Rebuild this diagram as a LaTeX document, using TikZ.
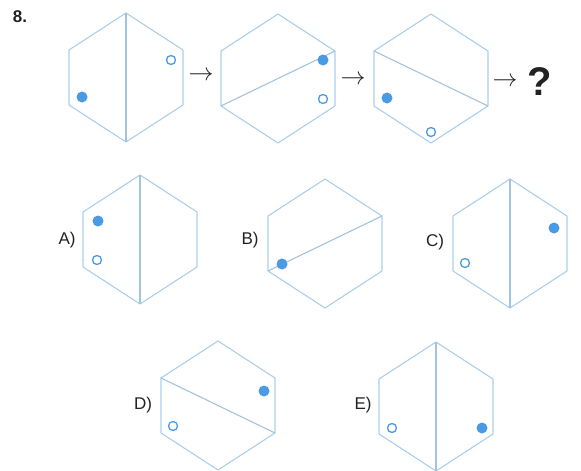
\documentclass[tikz,border=0pt]{standalone}
\usepackage{fontspec}
\setmainfont{Liberation Sans}
\usepackage{tikz}
\usetikzlibrary{positioning,calc}
\usepackage{xcolor}
\definecolor{hexblue}{HTML}{A9CFEC}
\definecolor{dotblue}{HTML}{4A9BE3}
\definecolor{dark}{HTML}{222222}
\tikzset{
  hexline/.style={draw=hexblue, line width=1.1pt, line join=round},
  cutline/.style={draw=hexblue!85!gray, line width=1.1pt},
  fulldot/.style={circle, fill=dotblue, inner sep=0pt, minimum size=11pt},
  opendot/.style={circle, draw=dotblue, fill=white, line width=1.3pt, inner sep=0pt, minimum size=9pt},
  optlabel/.style={font=\fontsize{17}{20}\selectfont, text=dark, inner sep=0pt},
  steparrow/.style={font=\fontsize{24}{26}\selectfont, text=dark, inner sep=0pt}
}
% hexagon with named corners: t, ur, lr, b, ll, ul
\newcommand{\hexat}[3]{%
  \begin{scope}[shift={(#2,#3)}]
    \coordinate (#1-t) at (0,-64);
    \coordinate (#1-ur) at (57,-27);
    \coordinate (#1-lr) at (57,28);
    \coordinate (#1-b) at (0,65);
    \coordinate (#1-ll) at (-57,28);
    \coordinate (#1-ul) at (-57,-27);
  \end{scope}
  \draw[hexline] (#1-t) -- (#1-ur) -- (#1-lr) -- (#1-b) -- (#1-ll) -- (#1-ul) -- cycle;
}

\begin{document}
\begin{tikzpicture}[x=1pt,y=-1pt]
  \useasboundingbox (0,0) rectangle (581,471);
  \node[font=\fontsize{17}{20}\selectfont\bfseries, text=dark] (num) at (20,17) {8.};

  % the sequence
  \hexat{s1}{126}{77}
  \hexat{s2}{278}{78}
  \hexat{s3}{431}{78}
  \draw[cutline] (s1-t) -- (s1-b);
  \draw[cutline] (s2-ll) -- (s2-ur);
  \draw[cutline] (s3-ul) -- (s3-lr);
  \node[fulldot] (s1f) at (82,97) {};
  \node[opendot] (s1o) at (171,60) {};
  \node[fulldot] (s2f) at (323,60) {};
  \node[opendot] (s2o) at (323,99) {};
  \node[fulldot] (s3f) at (387,98) {};
  \node[opendot] (s3o) at (431,132) {};
  \node[steparrow] (ar1) at (201,76) {$\rightarrow$};
  \node[steparrow] (ar2) at (353,80) {$\rightarrow$};
  \node[steparrow] (ar3) at (505,82) {$\rightarrow$};
  \node[font=\fontsize{40}{44}\selectfont\bfseries, text=dark] (ask) at (540,82) {?};

  % the options
  \hexat{oa}{140}{239}
  \draw[cutline] (oa-t) -- (oa-b);
  \node[fulldot] (oaf) at (98,221) {};
  \node[opendot] (oao) at (97,260) {};
  \node[optlabel] (la) at (67,240) {A)};

  \hexat{ob}{325}{243}
  \draw[cutline] (ob-ll) -- (ob-ur);
  \node[fulldot] (obf) at (282,264) {};
  \node[optlabel] (lb) at (250,240) {B)};

  \hexat{oc}{510}{243}
  \draw[cutline] (oc-t) -- (oc-b);
  \node[fulldot] (ocf) at (554,228) {};
  \node[opendot] (oco) at (465,263) {};
  \node[optlabel] (lc) at (435,242) {C)};

  \hexat{od}{218}{405}
  \draw[cutline] (od-ul) -- (od-lr);
  \node[fulldot] (odf) at (264,391) {};
  \node[opendot] (odo) at (173,426) {};
  \node[optlabel] (ld) at (143,405) {D)};

  \hexat{oe}{436}{406}
  \draw[cutline] (oe-t) -- (oe-b);
  \node[fulldot] (oef) at (482,428) {};
  \node[opendot] (oeo) at (392,428) {};
  \node[optlabel] (le) at (363,405) {E)};
\end{tikzpicture}
\end{document}
